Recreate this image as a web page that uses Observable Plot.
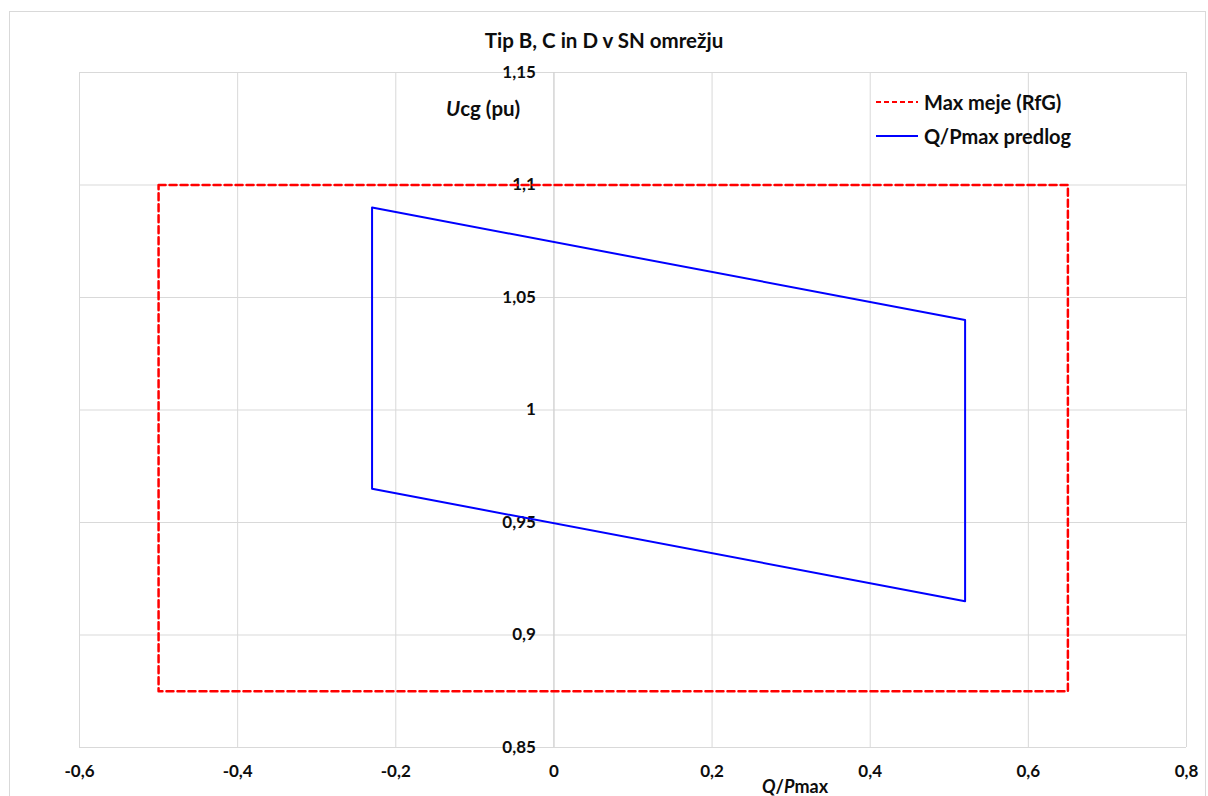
<!DOCTYPE html>
<html>
<head>
<meta charset="utf-8">
<script src="https://cdn.jsdelivr.net/npm/d3@7"></script>
<script src="https://cdn.jsdelivr.net/npm/@observablehq/plot@0.6"></script>
<style>
  html, body { margin: 0; padding: 0; background: #fff; }
  body { width: 1208px; height: 796px; position: relative; overflow: hidden; font-family: Lato, "Open Sans", sans-serif; }
  #border { position: absolute; left: 9px; top: 11px; width: 1197px; height: 800px; border: 1px solid #d9d9d9; box-sizing: border-box; }
  #title { position: absolute; left: 0; top: 28px; width: 1208px; text-align: center; font-weight: 700; font-size: 20.5px; color: #0d0d0d; }
  #chart { position: absolute; left: 0; top: 60px; }
  .lbl { position: absolute; font-weight: 700; font-size: 18px; color: #0d0d0d; white-space: nowrap; line-height: 20px; }
  #legend { position: absolute; left: 876px; top: 85px; font-weight: 700; font-size: 20px; color: #0d0d0d; }
  #legend div { display: flex; align-items: center; height: 34px; }
  #legend svg { margin-right: 6px; }
</style>
</head>
<body>
<div id="border"></div>
<div id="title">Tip B, C in D v SN omrežju</div>
<div id="chart"></div>
<div class="lbl" style="left:446px; top:98px; font-size:20.5px;"><i>U</i>cg (pu)</div>
<div class="lbl" style="left:762px; top:776px;"><i>Q</i>/<i>P</i>max</div>
<div id="legend"></div>
<script>
// Data
const seriesNames = ["Max meje (RfG)", "Q/Pmax predlog"];
const seriesColors = ["#ff0000", "#0000ff"];
const maxQ = [-0.5, 0.65, 0.65, -0.5, -0.5];
const maxU = [1.1, 1.1, 0.875, 0.875, 1.1];
const predQ = [-0.23, 0.52, 0.52, -0.23, -0.23];
const predU = [1.09, 1.04, 0.915, 0.965, 1.09];
const xTicks = [-0.6, -0.4, -0.2, 0, 0.2, 0.4, 0.6, 0.8];
const xTickLabels = ["-0,6", "-0,4", "-0,2", "0", "0,2", "0,4", "0,6", "0,8"];
const yTicks = [0.85, 0.9, 0.95, 1, 1.05, 1.1, 1.15];
const yTickLabels = ["0,85", "0,9", "0,95", "1", "1,05", "1,1", "1,15"];

const maxData = maxQ.map((q, i) => ({q, u: maxU[i]}));
const predData = predQ.map((q, i) => ({q, u: predU[i]}));
const yLab = yTicks.map((v, i) => ({v, t: yTickLabels[i]}));

const plot = Plot.plot({
  width: 1208,
  height: 736,
  marginLeft: 79,
  marginRight: 22,
  marginTop: 12,
  marginBottom: 49,
  style: { fontFamily: "Lato, 'Open Sans', sans-serif", color: "#0d0d0d", background: "transparent" },
  x: { domain: [-0.6, 0.8], axis: null },
  y: { domain: [0.85, 1.15], axis: null },
  marks: [
    Plot.gridX(xTicks, { stroke: "#d9d9d9", strokeOpacity: 1, strokeWidth: 1 }),
    Plot.gridY(yTicks, { stroke: "#d9d9d9", strokeOpacity: 1, strokeWidth: 1 }),
    Plot.ruleX([0], { stroke: "#d0d0d0", strokeWidth: 1 }),
    Plot.axisX(xTicks, { tickSize: 0, tickPadding: 17, tickFormat: (d, i) => xTickLabels[i], label: null, fontWeight: 700, fontSize: 17, fill: "#0d0d0d" }),
    Plot.text(yLab, { x: 0, y: "v", text: "t", textAnchor: "end", dx: -18, fontWeight: 700, fontSize: 17, fill: "#0d0d0d" }),
    Plot.line(maxData, { x: "q", y: "u", stroke: seriesColors[0], strokeWidth: 2.5, strokeDasharray: "7,4" }),
    Plot.line(predData, { x: "q", y: "u", stroke: seriesColors[1], strokeWidth: 2 })
  ]
});
document.getElementById("chart").appendChild(plot);

// Legend
const leg = document.getElementById("legend");
seriesNames.forEach((name, i) => {
  const row = document.createElement("div");
  const dash = i === 0 ? 'stroke-dasharray="5,3"' : '';
  row.innerHTML = `<svg width="42" height="6"><line x1="0" y1="3" x2="42" y2="3" stroke="${seriesColors[i]}" stroke-width="2.2" ${dash}/></svg><span>${name}</span>`;
  leg.appendChild(row);
});
</script>
</body>
</html>
